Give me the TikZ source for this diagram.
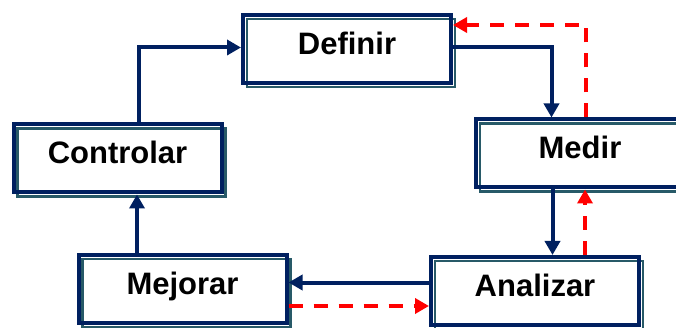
\documentclass[tikz,border=0pt]{standalone}
\usepackage{fontspec}
\setmainfont{Liberation Sans}
\usetikzlibrary{arrows.meta,calc}

\definecolor{navy}{RGB}{0,32,96}
\definecolor{shadowteal}{RGB}{40,90,104}
\definecolor{loopred}{RGB}{255,0,0}

\tikzset{
  boxbase/.style={fill=white, outer sep=0pt, minimum width=208pt, minimum height=68pt,
    inner sep=0pt, text height=22pt, text depth=11pt,
    font=\fontsize{31}{34}\selectfont\bfseries},
  boxedge/.style={draw=navy, line width=4pt},
  shadowedge/.style={draw=shadowteal, line width=2.6pt},
  flow/.style={draw=navy, line width=4pt,
    -{Triangle[length=14pt,width=15pt]}, shorten >=2pt},
  back/.style={draw=loopred, line width=3.6pt, dash pattern=on 14pt off 11pt,
    -{Triangle[length=14pt,width=15pt]}, shorten >=2pt, shorten <=2pt},
}

% box with a teal edge set off to the lower right
\newcommand{\stagebox}[3]{%
  \node[boxbase] (#1) at (#2) {#3};
  \draw[shadowedge] ($(#1.south west)+(4,4)$) rectangle ($(#1.north east)+(4,4)$);
  \draw[boxedge] (#1.south west) rectangle (#1.north east);
}

\begin{document}
\begin{tikzpicture}[x=1pt,y=-1pt]
  \useasboundingbox (0,0) rectangle (676,328);
  \clip (0,0) rectangle (676,328);

  \stagebox{definir}{347,49}{Definir}
  \stagebox{medir}{580,153.5}{Medir}
  \stagebox{controlar}{117.5,158.5}{Controlar}
  \stagebox{mejorar}{182.5,289}{Mejorar}
  \stagebox{analizar}{535,291}{Analizar}

  % main cycle
  \draw[flow] (controlar.north -| 138.5,0) |- (definir.west |- 0,47.5);
  \draw[flow] (definir.east |- 0,47) -| (medir.north -| 551.5,0);
  \draw[flow] (medir.south -| 552.5,0) -- (analizar.north -| 552.5,0);
  \draw[flow] (analizar.west |- 0,282.5) -- (mejorar.east |- 0,282.5);
  \draw[flow] (mejorar.north -| 137,0) -- (controlar.south -| 137,0);

  % feedback loops
  \draw[back] (medir.north -| 586,0) |- (definir.east |- 0,25);
  \draw[back] (analizar.north -| 585,0) -- (medir.south -| 585,0);
  \draw[back] (mejorar.east |- 0,306) -- (analizar.west |- 0,306);
\end{tikzpicture}
\end{document}
